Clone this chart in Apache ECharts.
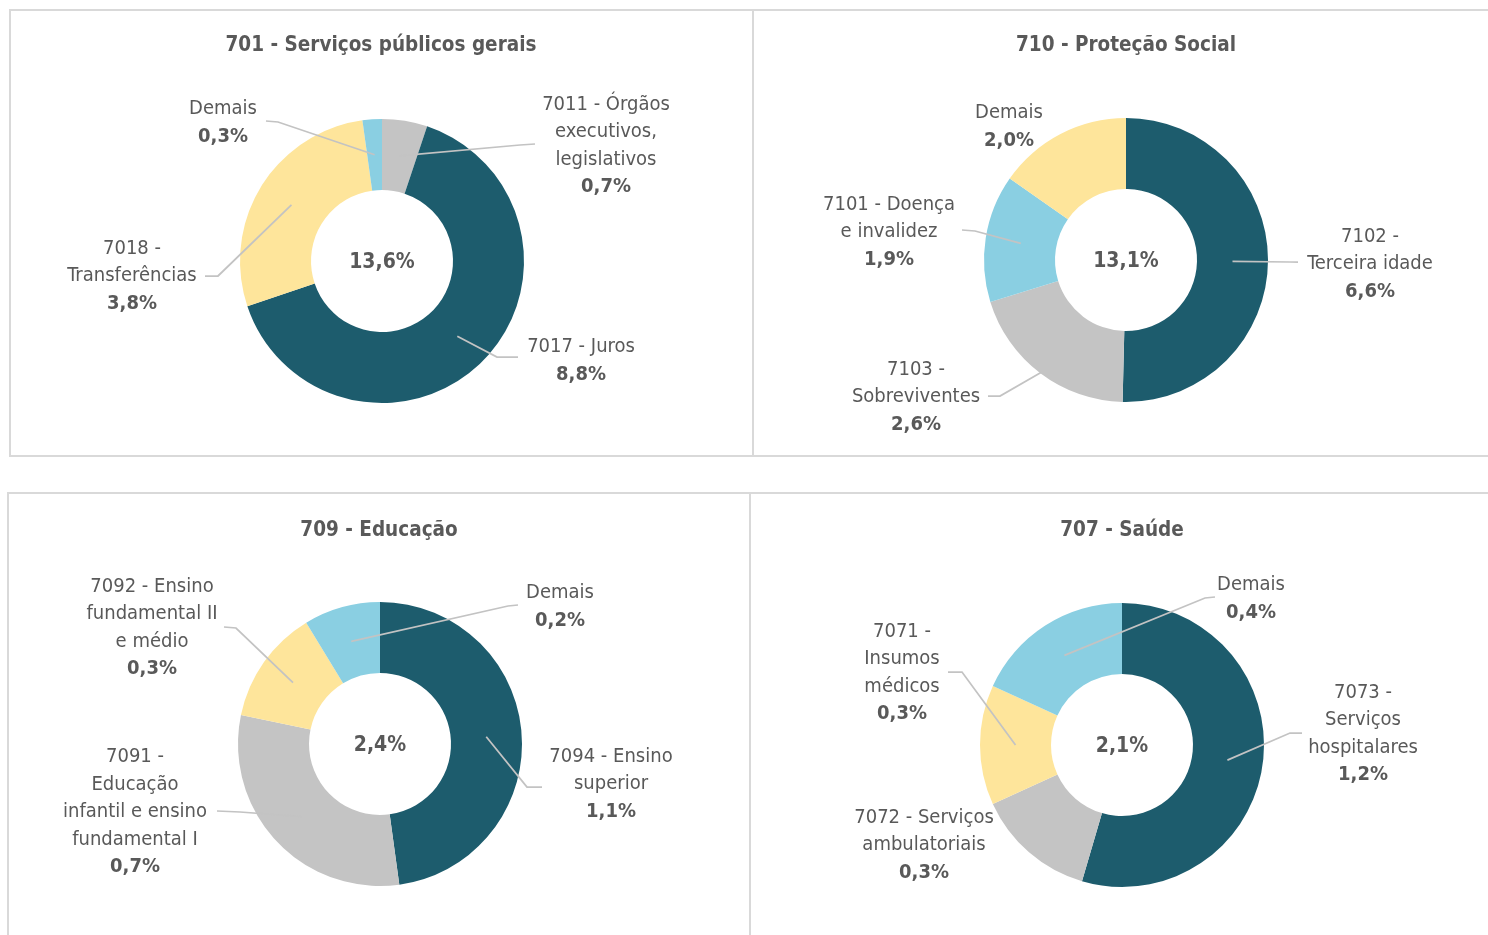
<!DOCTYPE html>
<html><head><meta charset="utf-8">
<script src="https://cdn.jsdelivr.net/npm/echarts@6/dist/echarts.min.js"></script>
<style>html,body{margin:0;padding:0;background:#fff}#c{width:1488px;height:935px}</style>
</head><body><div id="c"></div>
<script>
// ---- data ----
const titles = ['701 - Serviços públicos gerais', '710 - Proteção Social', '709 - Educação', '707 - Saúde'];
const totals = ['13,6%', '13,1%', '2,4%', '2,1%'];

const names701 = ['7011 - Órgãos\nexecutivos,\nlegislativos', '7017 - Juros', '7018 -\nTransferências', 'Demais'];
const values701 = [0.7, 8.8, 3.8, 0.3];

const names710 = ['7102 -\nTerceira idade', '7103 -\nSobreviventes', '7101 - Doença\ne invalidez', 'Demais'];
const values710 = [6.6, 2.6, 1.9, 2.0];

const names709 = ['7094 - Ensino\nsuperior', '7091 -\nEducação\ninfantil e ensino\nfundamental I', '7092 - Ensino\nfundamental II\ne médio', 'Demais'];
const values709 = [1.1, 0.7, 0.3, 0.2];

const names707 = ['7073 -\nServiços\nhospitalares', '7072 - Serviços\nambulatoriais', '7071 -\nInsumos\nmédicos', 'Demais'];
const values707 = [1.2, 0.3, 0.3, 0.4];

// ---- styles ----
const DARK = '#1D5C6D', GREY = '#C4C4C4', YELLOW = '#FEE59B', CYAN = '#8ACFE2';
const TEXT = '#595959';
const FONT = "'Liberation Sans Narrow','Arial Narrow','DejaVu Sans Condensed','DejaVu Sans',sans-serif";
const colorSets = [[GREY, DARK, YELLOW, CYAN], [DARK, GREY, CYAN, YELLOW], [DARK, GREY, YELLOW, CYAN], [DARK, GREY, YELLOW, CYAN]];
const allNames = [names701, names710, names709, names707];
const allValues = [values701, values710, values709, values707];

// layout (positions only)
const R_IN = 71, R_OUT = 142;
const panels = [
  { center: [382, 261], title: [381, 46], labels: [
    { x: 606, y: 146, line: [[520, 145], [535, 144]] },
    { x: 581, y: 361, line: [[497, 357], [518, 357]] },
    { x: 132, y: 276, line: [[218, 276], [205, 276]] },
    { x: 223, y: 123, line: [[278, 122], [266, 121]] } ] },
  { center: [1126, 260], title: [1126, 46], labels: [
    { x: 1370, y: 264, line: [[1290, 262], [1298, 262]] },
    { x: 916, y: 397, line: [[1000, 396], [988, 396]], startR: 141 },
    { x: 889, y: 232, line: [[975, 231], [962, 230]] },
    { x: 1009, y: 127 } ] },
  { center: [380, 744], title: [379, 531], labels: [
    { x: 611, y: 784, line: [[527, 787], [542, 787]] },
    { x: 135, y: 812, line: [[240, 812], [217, 811]] },
    { x: 152, y: 628, line: [[236, 628], [224, 627]] },
    { x: 560, y: 607, line: [[508, 606], [518, 605]] } ] },
  { center: [1122, 745], title: [1122, 531], labels: [
    { x: 1363, y: 734, line: [[1290, 733], [1302, 733]] },
    { x: 924, y: 845 },
    { x: 902, y: 673, line: [[962, 672], [948, 672]] },
    { x: 1251, y: 599, line: [[1205, 598], [1215, 597]] } ] }
];

function fmt(v) { return v.toFixed(1).replace('.', ',') + '%'; }

function midAngle(values, i) {
  const sum = values.reduce((a, b) => a + b, 0);
  let before = 0;
  for (let k = 0; k < i; k++) before += values[k];
  return ((before + values[i] / 2) / sum) * 2 * Math.PI;
}

const base = (p) => ({
  type: 'pie',
  silent: true,
  center: p.center,
  radius: [R_IN, R_OUT],
  startAngle: 90,
  clockwise: true,
  avoidLabelOverlap: false,
  animation: false,
  emphasis: { disabled: true }
});

// colored donuts
const donuts = panels.map((p, si) => Object.assign(base(p), {
  z: 2,
  label: { show: false },
  labelLine: { show: false },
  data: allValues[si].map((v, i) => ({ name: allNames[si][i], value: v, itemStyle: { color: colorSets[si][i] } }))
}));

// transparent overlays carrying labels + leader lines (drawn above the donuts)
const overlays = panels.map((p, si) => Object.assign(base(p), {
  z: 3,
  itemStyle: { color: 'rgba(0,0,0,0)' },
  label: {
    show: true,
    position: 'outside',
    formatter: (prm) => prm.name.split('\n').map(s => '{n|' + s + '}').join('\n') + '\n{v|' + fmt(prm.value) + '}',
    rich: {
      n: { fontFamily: FONT, fontSize: 20, lineHeight: 27.5, color: TEXT, align: 'center' },
      v: { fontFamily: FONT, fontSize: 20, lineHeight: 27.5, color: TEXT, fontWeight: 'bold', align: 'center' }
    }
  },
  labelLine: { show: true, smooth: false, lineStyle: { color: '#C3C3C3', width: 1.75 } },
  labelLayout: (prm) => {
    const idx = prm.seriesIndex % 4;
    const cfg = panels[idx].labels[prm.dataIndex];
    const out = { x: cfg.x, y: cfg.y, align: 'center', verticalAlign: 'middle' };
    if (cfg.line) {
      const vals = allValues[idx];
      const a = midAngle(vals, prm.dataIndex);
      const r = cfg.startR || (R_IN + R_OUT) / 2;
      const c = panels[idx].center;
      const start = [c[0] + r * Math.sin(a), c[1] - r * Math.cos(a)];
      out.labelLinePoints = [start, cfg.line[0], cfg.line[1]];
    }
    return out;
  },
  data: allValues[si].map((v, i) => ({
    name: allNames[si][i],
    value: v,
    labelLine: { show: !!p.labels[i].line }
  }))
}));

const graphics = [
  { type: 'rect', shape: { x: 10, y: 10, width: 743, height: 446 }, style: { fill: 'none', stroke: '#D9D9D9', lineWidth: 2 }, silent: true },
  { type: 'rect', shape: { x: 753, y: 10, width: 745, height: 446 }, style: { fill: 'none', stroke: '#D9D9D9', lineWidth: 2 }, silent: true },
  { type: 'rect', shape: { x: 8, y: 493, width: 742, height: 460 }, style: { fill: 'none', stroke: '#D9D9D9', lineWidth: 2 }, silent: true },
  { type: 'rect', shape: { x: 750, y: 493, width: 748, height: 460 }, style: { fill: 'none', stroke: '#D9D9D9', lineWidth: 2 }, silent: true }
];
panels.forEach((p, i) => {
  graphics.push({ type: 'text', x: p.title[0], y: p.title[1], silent: true,
    style: { text: titles[i], align: 'center', verticalAlign: 'middle', fill: TEXT, font: 'bold 20.5px ' + FONT } });
  graphics.push({ type: 'text', x: p.center[0], y: p.center[1] + 2, silent: true,
    style: { text: totals[i], align: 'center', verticalAlign: 'middle', fill: TEXT, font: 'bold 21px ' + FONT } });
});

const chart = echarts.init(document.getElementById('c'), null, { renderer: 'canvas' });
chart.setOption({
  backgroundColor: '#fff',
  animation: false,
  graphic: graphics,
  series: donuts.concat(overlays)
});
</script>
</body></html>
